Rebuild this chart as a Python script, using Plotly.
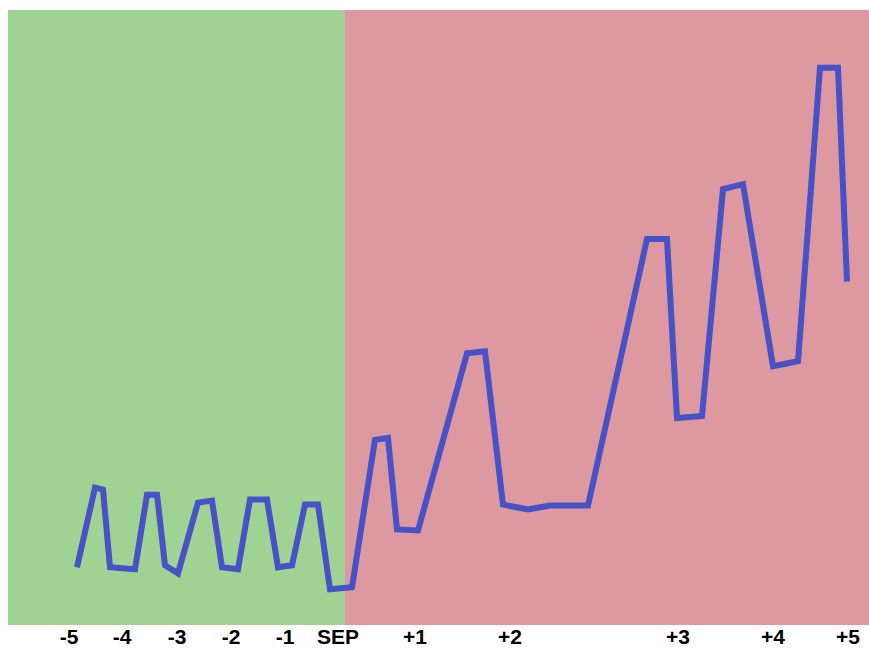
import plotly.graph_objects as go

# Data (x in timeline units, y in relative level units)
x_vals = [77, 95, 103, 110, 135, 147, 157, 165, 178, 198, 212, 222, 238, 250, 267, 278, 292,
          305, 318, 330, 352, 375, 388, 397, 418, 467, 485, 503, 528, 550, 588, 647, 667,
          677, 702, 723, 743, 773, 798, 820, 838, 847]
y_vals = [58, 138, 136, 58, 56, 131, 131, 60, 52, 123, 125, 58, 56, 126, 126, 58, 60,
          121, 121, 36, 38, 186, 188, 96, 95, 273, 275, 121, 116, 120, 120, 388, 388,
          208, 210, 438, 443, 260, 265, 560, 560, 345]

tick_positions = [69, 122, 177, 231, 285, 338, 415, 510, 678, 773, 848]
tick_labels = ["-5", "-4", "-3", "-2", "-1", "SEP", "+1", "+2", "+3", "+4", "+5"]

x_start, x_split, x_end = 8, 345, 869
y_min, y_max = 0, 618

fig = go.Figure()

fig.add_shape(type="rect", xref="x", yref="y", x0=x_start, x1=x_split, y0=y_min, y1=y_max,
              fillcolor="rgb(160,210,147)", line_width=0, layer="below")
fig.add_shape(type="rect", xref="x", yref="y", x0=x_split, x1=x_end, y0=y_min, y1=y_max,
              fillcolor="rgb(222,152,160)", line_width=0, layer="below")

fig.add_trace(go.Scatter(x=x_vals, y=y_vals, mode="lines",
                         line=dict(color="rgb(70,82,198)", width=6),
                         hoverinfo="skip"))

fig.update_layout(
    width=869, height=648,
    margin=dict(l=8, r=0, t=10, b=23),
    paper_bgcolor="white", plot_bgcolor="white",
    showlegend=False,
    xaxis=dict(range=[x_start, x_end], tickvals=tick_positions, ticktext=tick_labels,
               showgrid=False, zeroline=False, showline=False, ticks="", automargin=False,
               ticklabelstandoff=-3,
               tickfont=dict(family="Liberation Sans", size=21, color="black", weight="bold"),
               fixedrange=True),
    yaxis=dict(range=[y_min, y_max], showticklabels=False, showgrid=False, automargin=False,
               zeroline=False, showline=False, fixedrange=True),
)

fig.write_html("out.html", config={"displayModeBar": False},
               post_script="document.body.style.margin='0';document.body.style.overflow='hidden';")
